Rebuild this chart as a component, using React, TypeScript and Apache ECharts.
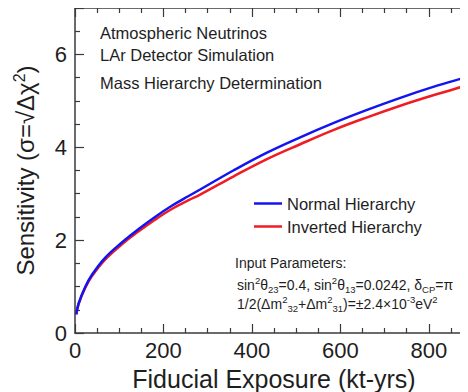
import React, { useEffect, useRef } from "react";
import * as echarts from "echarts";

// Fiducial exposure (kt-yrs) at which the sensitivity curves are sampled
const exposure = [3, 8, 23, 38, 68, 106, 144, 181, 219, 257, 283, 358, 433, 508, 584, 659, 734, 810, 885, 900];
// Sensitivity sigma = sqrt(delta chi^2), normal hierarchy
const normalHierarchy = [0.4, 0.63, 0.99, 1.25, 1.62, 1.95, 2.24, 2.5, 2.74, 2.95, 3.09, 3.5, 3.88, 4.21, 4.52, 4.8, 5.06, 5.3, 5.51, 5.55];
// Sensitivity sigma = sqrt(delta chi^2), inverted hierarchy
const invertedHierarchy = [0.4, 0.62, 0.97, 1.22, 1.58, 1.91, 2.19, 2.44, 2.67, 2.86, 2.98, 3.37, 3.74, 4.06, 4.37, 4.64, 4.89, 5.12, 5.33, 5.37];

const seriesNames = ["Normal Hierarchy", "Inverted Hierarchy"];
const seriesColors = ["#1414f0", "#f01c24"];

const FONT = "'Liberation Sans', Arial, Helvetica, sans-serif";
const INK = "#1e1e1e";
const AXIS = "#3a3a3a";

function pairs(xs: number[], ys: number[]) {
  return xs.map((x, i) => [x, ys[i]]);
}

const frameAxis = {
  axisLine: { show: true, onZero: false, lineStyle: { color: AXIS, width: 1.5 } },
  axisTick: { show: true, inside: true, length: 9, lineStyle: { color: AXIS, width: 1.2 } },
  minorTick: { show: true, splitNumber: 4, length: 5, lineStyle: { color: AXIS, width: 1.2 } },
  splitLine: { show: false },
  minorSplitLine: { show: false },
};

export default function App() {
  const ref = useRef<HTMLDivElement>(null);

  useEffect(() => {
    if (!ref.current) return;
    const chart = echarts.init(ref.current, null, { renderer: "svg" });

    const xBase = { type: "value", min: 0, max: 900, interval: 200, ...frameAxis };
    const yBase = { type: "value", min: 0, max: 7, interval: 2, ...frameAxis };

    const infoText = (x: number, y: number, text: string, size = 14) => ({
      type: "text",
      x,
      y,
      style: {
        text,
        font: `${size}px ${FONT}`,
        fill: INK,
        textVerticalAlign: "middle",
        rich: {
          t: { fontSize: size, fontFamily: FONT, fill: INK, lineHeight: 19, verticalAlign: "middle" },
          sup: { fontSize: 9.5, fontFamily: FONT, fill: INK, lineHeight: 11, verticalAlign: "top" },
          sub: { fontSize: 9.5, fontFamily: FONT, fill: INK, lineHeight: 11, verticalAlign: "bottom" },
        },
      },
    });

    const noteText = (y: number, text: string) => ({
      type: "text",
      x: 100,
      y,
      style: { text, font: `16.5px ${FONT}`, fill: INK, textVerticalAlign: "middle" },
    });

    chart.setOption({
      animation: false,
      textStyle: { fontFamily: FONT },
      grid: { left: 75, top: 8, right: -5, bottom: 59, show: false, containLabel: false, outerBoundsMode: "none" },
      legend: {
        data: seriesNames,
        orient: "vertical",
        left: 254,
        top: 195,
        itemWidth: 28,
        itemHeight: 2.5,
        itemGap: 6,
        icon: "rect",
        padding: 0,
        textStyle: { fontSize: 16.5, color: INK, fontFamily: FONT },
      },
      xAxis: [
        {
          ...xBase,
          position: "bottom",
          name: "Fiducial Exposure (kt-yrs)",
          nameLocation: "middle",
          nameGap: 33,
          nameTextStyle: { fontSize: 25, color: INK, fontFamily: FONT },
          axisLabel: { show: true, fontSize: 22, color: INK, margin: 6, showMaxLabel: false, fontFamily: FONT },
        },
        { ...xBase, position: "top", axisLabel: { show: false } },
      ],
      yAxis: [
        {
          ...yBase,
          position: "left",
          name: "{a|Sensitivity (σ=√Δχ}{s|2}{a|)}",
          nameLocation: "middle",
          nameGap: 36,
          nameRotate: 90,
          nameTextStyle: {
            rich: {
              a: { fontSize: 24, color: INK, fontFamily: FONT, lineHeight: 28, verticalAlign: "middle" },
              s: { fontSize: 16, color: INK, fontFamily: FONT, lineHeight: 16, verticalAlign: "top" },
            },
          },
          axisLabel: { show: true, fontSize: 22, color: INK, margin: 8, showMaxLabel: false, fontFamily: FONT },
        },
        { ...yBase, position: "right", axisLabel: { show: false } },
      ],
      series: [
        {
          name: seriesNames[0],
          type: "line",
          data: pairs(exposure, normalHierarchy),
          smooth: 0.4,
          showSymbol: false,
          lineStyle: { color: seriesColors[0], width: 2.5 },
          itemStyle: { color: seriesColors[0] },
          z: 3,
        },
        {
          name: seriesNames[1],
          type: "line",
          data: pairs(exposure, invertedHierarchy),
          smooth: 0.4,
          showSymbol: false,
          lineStyle: { color: seriesColors[1], width: 2.5 },
          itemStyle: { color: seriesColors[1] },
          z: 2,
        },
      ],
      graphic: [
        noteText(33, "Atmospheric Neutrinos"),
        noteText(55, "LAr Detector Simulation"),
        noteText(83, "Mass Hierarchy Determination"),
        infoText(235, 263, "{t|Input Parameters:}"),
        infoText(237, 285, "{t|sin}{sup|2}{t|θ}{sub|23}{t|=0.4, sin}{sup|2}{t|θ}{sub|13}{t|=0.0242, δ}{sub|CP}{t|=π}"),
        infoText(237, 304, "{t|1/2(Δm}{sup|2}{sub|32}{t|+Δm}{sup|2}{sub|31}{t|)=±2.4×10}{sup|-3}{t|eV}{sup|2}"),
      ],
    });

    return () => chart.dispose();
  }, []);

  return <div ref={ref} style={{ width: 468, height: 392, marginLeft: -8, marginTop: -8 }} />;
}
